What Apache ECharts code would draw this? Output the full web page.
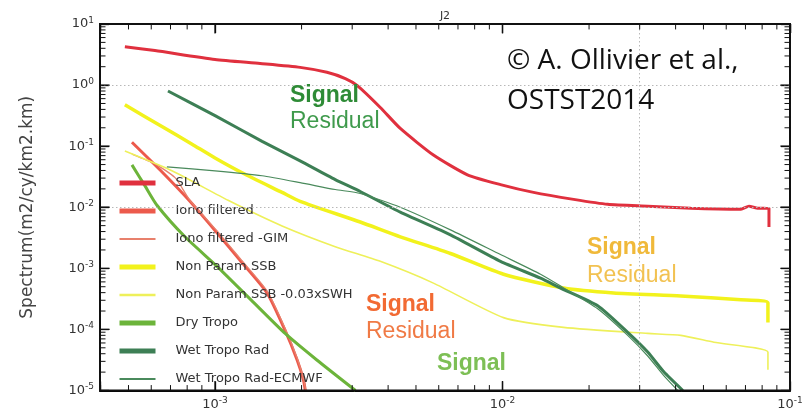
<!DOCTYPE html>
<html>
<head>
<meta charset="utf-8">
<script src="https://cdn.jsdelivr.net/npm/echarts@6/dist/echarts.min.js"></script>
<style>
  html, body { margin: 0; padding: 0; background: #fff; }
  #chart { width: 808px; height: 411px; }
</style>
</head>
<body>
<div id="chart"></div>
<script>
// Along-track wavenumber spectra, Jason-2 (J2): frequency in cy/km, density in m2/cy/km2.km

const slaFreq = [4.857e-4, 6.18e-4, 1.0e-3, 1.435e-3, 1.977e-3, 2.45e-3, 2.84e-3, 3.126e-3, 3.757e-3, 4.41e-3, 5.75e-3, 7.55e-3, 9.84e-3, 0.01282, 0.01768, 0.02322, 0.0320, 0.04519, 0.06752, 0.0720, 0.0773, 0.0845, 0.0845];
const slaPsd  = [4.25, 3.67, 2.63, 2.26, 1.95, 1.62, 1.28, 0.98, 0.43, 0.195, 0.0716, 0.034, 0.0235, 0.0175, 0.01345, 0.01117, 0.0104, 0.00963, 0.00929, 0.0104, 0.00963, 0.0096, 0.00475];

const ionoFreq = [5.14e-4, 6.43e-4, 8.18e-4, 1.016e-3, 1.222e-3, 1.517e-3, 1.753e-3, 1.93e-3, 2.03e-3, 2.06e-3];
const ionoPsd  = [0.116, 0.041, 0.0125, 0.00381, 0.00135, 3.95e-4, 9.6e-5, 3.16e-5, 1.5e-5, 1.0e-5];

const gimFreq = [5.14e-4, 6.18e-4, 7.26e-4, 8.18e-4, 1.016e-3, 1.222e-3, 1.517e-3, 1.753e-3, 1.93e-3, 2.03e-3, 2.07e-3];
const gimPsd  = [0.0743, 0.0513, 0.0305, 0.013, 0.0041, 0.00145, 4.26e-4, 1.04e-4, 3.4e-5, 1.56e-5, 1.0e-5];

const ssbFreq = [4.857e-4, 6.535e-4, 8.32e-4, 1.0e-3, 1.242e-3, 1.711e-3, 1.977e-3, 3.2e-3, 4.41e-3, 6.59e-3, 0.01008, 0.01631, 0.02436, 0.04171, 0.06752, 0.0838, 0.0838];
const ssbPsd  = [0.475, 0.210, 0.1077, 0.064, 0.0367, 0.0175, 0.0125, 0.00573, 0.00328, 0.00175, 8.0e-4, 4.75e-4, 3.95e-4, 3.53e-4, 3.05e-4, 2.72e-4, 1.3e-4];

const ssbSwhFreq = [4.857e-4, 7.08e-4, 1.11e-3, 1.711e-3, 2.619e-3, 3.757e-3, 5.75e-3, 0.01008, 0.01631, 0.0320, 0.04171, 0.05435, 0.0838, 0.0838];
const ssbSwhPsd  = [0.083, 0.0395, 0.013, 0.00494, 0.00226, 0.0013, 5.73e-4, 1.56e-4, 1.08e-4, 8.6e-5, 8.0e-5, 6.17e-5, 4.26e-5, 2.18e-5];

const dryFreq = [5.14e-4, 5.70e-4, 6.28e-4, 7.86e-4, 1.016e-3, 1.355e-3, 1.753e-3, 2.26e-3, 3.08e-3];
const dryPsd  = [0.0494, 0.0226, 0.0108, 0.00328, 0.00108, 2.83e-4, 8.6e-5, 3.16e-5, 1.0e-5];

const wetFreq = [6.86e-4, 1.0e-3, 1.458e-3, 1.977e-3, 2.619e-3, 3.2e-3, 4.41e-3, 6.59e-3, 9.84e-3, 0.01356, 0.01592, 0.02143, 0.02725, 0.0320, 0.03639, 0.04238];
const wetPsd  = [0.80, 0.316, 0.120, 0.0573, 0.0283, 0.0181, 0.0083, 0.00353, 0.0013, 6.9e-4, 4.75e-4, 2.44e-4, 8.95e-5, 4.26e-5, 2.02e-5, 1.0e-5];

const ecmwfFreq = [6.8e-4, 1.0e-3, 1.458e-3, 1.977e-3, 2.619e-3, 3.2e-3, 4.41e-3, 6.59e-3, 9.84e-3, 0.01356, 0.01592, 0.02143, 0.02725, 0.0320, 0.03639, 0.0407];
const ecmwfPsd  = [0.0458, 0.0395, 0.0328, 0.0253, 0.0195, 0.0168, 0.010, 0.00426, 0.00168, 8.0e-4, 5.13e-4, 2.18e-4, 8.0e-5, 3.67e-5, 1.75e-5, 1.0e-5];

// Axis ranges, decade ticks and the dotted reference lines
const X_MIN = 0.000398, X_MAX = 0.1;
const Y_MIN = 1e-5, Y_MAX = 10;
const xMajor = [1e-3, 1e-2];
const yMajor = [1e-4, 1e-3, 1e-2, 1e-1, 1];
const xGridAt = [0.00316, 0.0316];
const yGridAt = [1, 0.01, 0.0001];

const GRID = { left: 100, top: 24, width: 690, height: 372 };

const zip = (xs, ys) => xs.map((x, i) => [x, ys[i]]);

// Intermediate (2..9) log ticks for each decade inside the axis range
function logMinorTicks(lo, hi) {
  const out = [];
  const e0 = Math.floor(Math.log10(lo)), e1 = Math.ceil(Math.log10(hi));
  for (let e = e0; e <= e1; e++) {
    for (let m = 2; m <= 9; m++) {
      const v = m * Math.pow(10, e);
      if (v > lo * 1.0001 && v < hi * 0.9999) out.push(v);
    }
  }
  return out;
}
const xMinor = logMinorTicks(X_MIN, X_MAX);
const yMinor = logMinorTicks(Y_MIN, Y_MAX);

// Tick lengths are given in pixels and turned into factors along each log axis
const pxPerDecX = GRID.width / Math.log10(X_MAX / X_MIN);
const pxPerDecY = GRID.height / Math.log10(Y_MAX / Y_MIN);
const fx = (px) => Math.pow(10, px / pxPerDecX);
const fy = (px) => Math.pow(10, px / pxPerDecY);

// Short strokes joined into one polyline, separated by empty points
const GAP = ['-', '-'];
function tickPath(xs, ys, len) {
  const out = [];
  xs.forEach(v => {
    out.push([v, Y_MIN], [v, Y_MIN * fy(len)], GAP);
    out.push([v, Y_MAX], [v, Y_MAX / fy(len)], GAP);
  });
  ys.forEach(v => {
    out.push([X_MIN, v], [X_MIN * fx(len), v], GAP);
    out.push([X_MAX, v], [X_MAX / fx(len), v], GAP);
  });
  return out;
}
const framePath = [[X_MIN, Y_MIN], [X_MAX, Y_MIN], [X_MAX, Y_MAX], [X_MIN, Y_MAX], [X_MIN, Y_MIN]];

function strokeSeries(name, width, data) {
  return {
    name: name,
    type: 'line',
    data: data,
    z: 6,
    clip: false,
    connectNulls: false,
    showSymbol: false,
    symbol: 'none',
    lineStyle: { color: '#111', width: width, cap: 'square' },
    itemStyle: { color: '#111' }
  };
}

const FONT = 'DejaVu Sans';
const powLabel = (v) => {
  const e = Math.log10(v);
  const r = Math.round(e);
  if (Math.abs(e - r) > 1e-6) return '';
  return '{b|10}{s|' + r + '}';
};
const labelRich = {
  b: { fontSize: 13, fontFamily: FONT, color: '#333', lineHeight: 16 },
  s: { fontSize: 9, fontFamily: FONT, color: '#333', lineHeight: 8, verticalAlign: 'top' }
};

const curves = [
  { name: 'SLA', data: zip(slaFreq, slaPsd), color: '#e0303e', width: 3, legendWidth: 5 },
  { name: 'Iono filtered', data: zip(ionoFreq, ionoPsd), color: '#ec5a4c', width: 3, legendWidth: 5 },
  { name: 'Iono filtered -GIM', data: zip(gimFreq, gimPsd), color: '#e8806c', width: 1.3, legendWidth: 2 },
  { name: 'Non Param SSB', data: zip(ssbFreq, ssbPsd), color: '#f2f21c', width: 3.5, legendWidth: 5 },
  { name: 'Non Param SSB -0.03xSWH', data: zip(ssbSwhFreq, ssbSwhPsd), color: '#eef05a', width: 1.6, legendWidth: 2.5 },
  { name: 'Dry Tropo', data: zip(dryFreq, dryPsd), color: '#6cb43a', width: 3, legendWidth: 5 },
  { name: 'Wet Tropo Rad', data: zip(wetFreq, wetPsd), color: '#3d7f55', width: 3, legendWidth: 5 },
  { name: 'Wet Tropo Rad-ECMWF', data: zip(ecmwfFreq, ecmwfPsd), color: '#4a8a5c', width: 1.2, legendWidth: 2 }
];

const lineSeries = curves.map(c => ({
  name: c.name,
  type: 'line',
  data: c.data,
  showSymbol: false,
  symbol: 'none',
  smooth: 0.2,
  z: 3,
  lineStyle: { color: c.color, width: c.width },
  itemStyle: { color: c.color }
}));

const gridSeries = {
  name: '__grid',
  type: 'line',
  data: [],
  z: 1,
  markLine: {
    symbol: 'none',
    label: { show: false },
    lineStyle: { type: [1.5, 2.5], color: '#b8b8b8', width: 1 },
    data: xGridAt.map(v => ({ xAxis: v })).concat(yGridAt.map(v => ({ yAxis: v })))
  }
};

const frameSeries = strokeSeries('__frame', 2, framePath);
const majorSeries = strokeSeries('__major', 1.3, tickPath(xMajor, yMajor, 9));
const minorSeries = strokeSeries('__minor', 1, tickPath(xMinor, yMinor, 5));

function frameAxis() {
  return {
    axisLine: { show: true, onZero: false, lineStyle: { color: '#000', width: 2 } },
    axisTick: { show: true, inside: true, length: 9, lineStyle: { color: '#000', width: 1.3 } },
    splitLine: { show: false }
  };
}

const texts = [
  { x: 290, y: 96, text: 'Signal', color: '#2e8b36', weight: 'bold' },
  { x: 290, y: 122, text: 'Residual', color: '#3f9a4c', weight: 'normal' },
  { x: 366, y: 305, text: 'Signal', color: '#f26a33', weight: 'bold' },
  { x: 366, y: 332, text: 'Residual', color: '#f07a45', weight: 'normal' },
  { x: 587, y: 248, text: 'Signal', color: '#f0b93a', weight: 'bold' },
  { x: 587, y: 276, text: 'Residual', color: '#f2c252', weight: 'normal' },
  { x: 437, y: 364, text: 'Signal', color: '#7dbf55', weight: 'bold' }
];

const graphic = texts.map(t => ({
  type: 'text', z: 10,
  style: {
    x: t.x, y: t.y, text: t.text, fill: t.color,
    font: t.weight + ' 23px "Liberation Sans", Arial, sans-serif',
    verticalAlign: 'middle', align: 'left'
  }
})).concat([
  { type: 'text', z: 10,
    style: { x: 507, y: 61, text: '© A. Ollivier et al.,', fill: '#111',
      font: '28px "Open Sans", sans-serif', verticalAlign: 'middle', align: 'left' } },
  { type: 'text', z: 10,
    style: { x: 507, y: 101, text: 'OSTST2014', fill: '#111',
      font: '28px "Open Sans", sans-serif', verticalAlign: 'middle', align: 'left' } },
  { type: 'text', z: 10,
    style: { x: 445, y: 16, text: 'J2', fill: '#333',
      font: '11px "DejaVu Sans", sans-serif', verticalAlign: 'middle', align: 'center' } }
]);

const chart = echarts.init(document.getElementById('chart'));
chart.setOption({
  animation: false,
  grid: GRID,
  legend: {
    orient: 'vertical',
    left: 117,
    top: 176,
    itemWidth: 36,
    itemHeight: 14,
    itemGap: 14,
    selectedMode: false,
    padding: 0,
    itemStyle: { opacity: 0 },
    textStyle: { fontFamily: FONT, fontSize: 13, color: '#333', lineHeight: 14, padding: [0, 0, 0, 15] },
    data: curves.map(c => ({ name: c.name, lineStyle: { width: c.legendWidth } }))
  },
  xAxis: [
    Object.assign({
      type: 'log', min: X_MIN, max: X_MAX, position: 'bottom',
      axisLabel: { margin: 6, formatter: powLabel, rich: labelRich }
    }, frameAxis()),
    Object.assign({
      type: 'log', min: X_MIN, max: X_MAX, position: 'top',
      axisLabel: { show: false }
    }, frameAxis())
  ],
  yAxis: [
    Object.assign({
      type: 'log', min: Y_MIN, max: Y_MAX, position: 'left',
      name: 'Spectrum(m2/cy/km2.km)', nameLocation: 'middle', nameGap: 64,
      nameTextStyle: { fontFamily: FONT, fontSize: 17, color: '#444' },
      axisLabel: { margin: 6, formatter: powLabel, rich: labelRich }
    }, frameAxis()),
    Object.assign({
      type: 'log', min: Y_MIN, max: Y_MAX, position: 'right',
      axisLabel: { show: false }
    }, frameAxis())
  ],
  series: [gridSeries, frameSeries, majorSeries, minorSeries].concat(lineSeries),
  graphic: graphic
});
</script>
</body>
</html>
